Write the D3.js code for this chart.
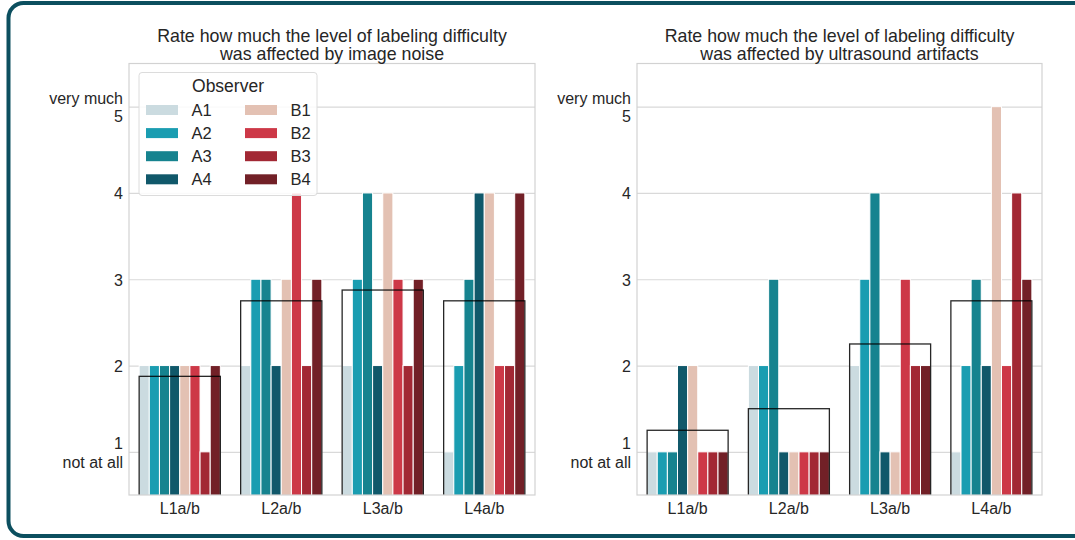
<!DOCTYPE html>
<html>
<head>
<meta charset="utf-8">
<script src="https://cdn.jsdelivr.net/npm/d3@7"></script>
<style>
  body { margin: 0; background: #fff; }
  svg { display: block; font-family: "Liberation Sans", Arial, sans-serif; }
</style>
</head>
<body>
<svg id="chart" width="1075" height="540"></svg>
<script>
// ---- data -------------------------------------------------------------
const levels = ["L1a/b", "L2a/b", "L3a/b", "L4a/b"];
const observers = ["A1", "A2", "A3", "A4", "B1", "B2", "B3", "B4"];
const observerColors = ["#cbdbe0", "#1a9db1", "#16838f", "#10586a",
                        "#e3c1b3", "#cd3847", "#a22834", "#722027"];

// ratings per level (rows) and observer (columns A1..B4)
const noiseRatings = [
  [2, 2, 2, 2, 2, 2, 1, 2],
  [2, 3, 3, 2, 3, 4, 2, 3],
  [2, 3, 4, 2, 4, 3, 2, 3],
  [1, 2, 3, 4, 4, 2, 2, 4]
];
const artifactRatings = [
  [1, 1, 1, 2, 2, 1, 1, 1],
  [2, 2, 3, 1, 1, 1, 1, 1],
  [2, 3, 4, 1, 1, 3, 2, 2],
  [1, 2, 3, 2, 5, 2, 4, 3]
];

const yTicks = [1, 2, 3, 4, 5];
const yTickLabels = ["1\nnot at all", "2", "3", "4", "very much\n5"];
const titles = [
  ["Rate how much the level of labeling difficulty", "was affected by image noise"],
  ["Rate how much the level of labeling difficulty", "was affected by ultrasound artifacts"]
];

// ---- layout -----------------------------------------------------------
const svg = d3.select("#chart");
const textColor = "#262626";
const panelTop = 63.5, panelBottom = 495;
const panels = [
  { left: 129, right: 535, ratings: noiseRatings, title: titles[0], legend: true },
  { left: 637, right: 1042, ratings: artifactRatings, title: titles[1], legend: false }
];

// outer rounded frame
svg.append("rect")
  .attr("x", 8.5).attr("y", 3)
  .attr("width", 1080).attr("height", 533)
  .attr("rx", 15).attr("ry", 15)
  .attr("fill", "none")
  .attr("stroke", "#0c4f5f")
  .attr("stroke-width", 4);

panels.forEach((p, pi) => {
  const w = p.right - p.left, h = panelBottom - panelTop;
  const g = svg.append("g").attr("transform", `translate(${p.left},${panelTop})`);

  const x = d3.scaleBand().domain(levels).range([0, w])
    .paddingInner(0.2).paddingOuter(0.1);
  const xObs = d3.scaleBand().domain(observers).range([0, x.bandwidth()]);
  const y = d3.scaleLinear().domain([0.5, 5.5]).range([h, 0]);
  const color = d3.scaleOrdinal().domain(observers).range(observerColors);

  const clipId = "clip" + pi;
  g.append("clipPath").attr("id", clipId)
    .append("rect").attr("width", w).attr("height", h);

  // horizontal grid
  g.append("g")
    .call(d3.axisLeft(y).tickValues(yTicks).tickSize(-w).tickFormat(""))
    .call(a => a.select(".domain").remove())
    .call(a => a.selectAll("line").attr("stroke", "#d9d9d9").attr("stroke-width", 1.2));

  // bars
  const plot = g.append("g").attr("clip-path", `url(#${clipId})`);
  levels.forEach((lvl, li) => {
    const grp = plot.append("g").attr("transform", `translate(${x(lvl)},0)`);
    grp.selectAll("rect")
      .data(p.ratings[li].map((v, oi) => ({ obs: observers[oi], v })))
      .join("rect")
      .attr("x", d => xObs(d.obs))
      .attr("y", d => y(d.v))
      .attr("width", xObs.bandwidth())
      .attr("height", d => h - y(d.v) + 2)
      .attr("fill", d => color(d.obs))
      .attr("stroke", "#fff")
      .attr("stroke-width", 1);
  });

  // mean outline per level
  plot.selectAll("rect.mean")
    .data(levels.map((lvl, li) => ({ lvl, m: d3.mean(p.ratings[li]) })))
    .join("rect")
    .attr("class", "mean")
    .attr("x", d => x(d.lvl))
    .attr("y", d => y(d.m))
    .attr("width", x.bandwidth())
    .attr("height", d => h - y(d.m) + 3)
    .attr("fill", "none")
    .attr("stroke", "#000")
    .attr("stroke-opacity", 0.85)
    .attr("stroke-width", 1.3);

  // panel frame
  g.append("rect")
    .attr("width", w).attr("height", h)
    .attr("fill", "none")
    .attr("stroke", "#d2d2d2")
    .attr("stroke-width", 1.2);

  // y tick labels (multi-line)
  const yAxis = g.append("g")
    .call(d3.axisLeft(y).tickValues(yTicks).tickSize(0).tickPadding(6)
      .tickFormat((d, i) => yTickLabels[i]));
  yAxis.select(".domain").remove();
  yAxis.selectAll("text").each(function (d, i) {
    const lines = yTickLabels[i].split("\n");
    const t = d3.select(this)
      .attr("fill", textColor).attr("font-size", 16)
      .attr("dy", null).attr("font-family", null).text("");
    const n = lines.length;
    lines.forEach((ln, k) => {
      t.append("tspan").attr("x", -6)
        .attr("y", 6 + (k - (n - 1) / 2) * 18.5)
        .text(ln);
    });
  });

  // x axis labels
  const xAxis = g.append("g").attr("transform", `translate(0,${h})`)
    .call(d3.axisBottom(x).tickSize(0).tickPadding(0));
  xAxis.select(".domain").remove();
  xAxis.selectAll("text")
    .attr("dy", null).attr("y", 19)
    .attr("font-size", 16).attr("font-family", null)
    .attr("fill", textColor);

  // title
  const title = svg.append("text")
    .attr("x", p.left + w / 2).attr("text-anchor", "middle")
    .attr("font-size", 17.8).attr("fill", textColor);
  p.title.forEach((ln, k) => {
    title.append("tspan").attr("x", p.left + w / 2).attr("y", 41.5 + k * 18.5).text(ln);
  });

  // legend
  if (p.legend) {
    const lg = svg.append("g");
    lg.append("rect")
      .attr("x", 139).attr("y", 72.5).attr("width", 178).attr("height", 123)
      .attr("rx", 3).attr("fill", "#fff").attr("fill-opacity", 0.85)
      .attr("stroke", "#dcdcdc").attr("stroke-width", 1);
    lg.append("text")
      .attr("x", 228).attr("y", 92).attr("text-anchor", "middle")
      .attr("font-size", 17.5).attr("fill", textColor).text("Observer");
    observers.forEach((o, i) => {
      const col = Math.floor(i / 4), row = i % 4;
      const px = 146 + col * 99, cy = 110 + row * 23.1;
      lg.append("rect")
        .attr("x", px).attr("y", cy - 5).attr("width", 32).attr("height", 10)
        .attr("fill", color(o));
      lg.append("text")
        .attr("x", px + 45.5).attr("y", cy + 6)
        .attr("font-size", 16.5).attr("fill", textColor).text(o);
    });
  }
});
</script>
</body>
</html>
